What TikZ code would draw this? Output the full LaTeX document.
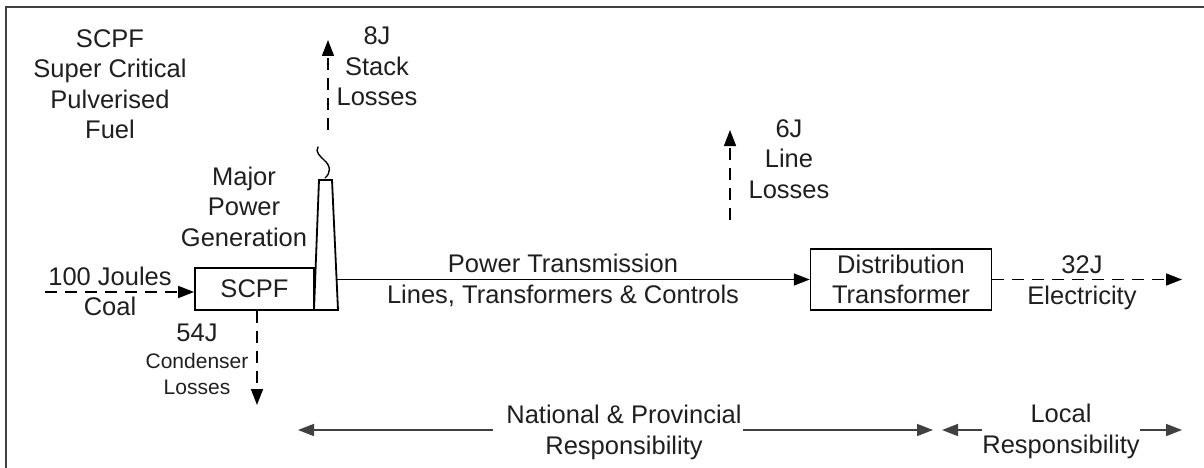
\documentclass[tikz,border=0pt]{standalone}
\usepackage{fontspec}
\setmainfont{Liberation Sans}
\usetikzlibrary{arrows.meta}
\begin{document}
\begin{tikzpicture}[x=1pt,y=-1pt,
  lbl/.style={align=center, anchor=base, inner sep=0pt, text=black!88,
              font=\fontsize{25.5}{30.5}\selectfont},
  small/.style={lbl, font=\fontsize{21}{26}\selectfont},
  flow/.style={line width=1.6pt, -{Triangle[length=16pt,width=12pt]}},
  loss/.style={flow, dash pattern=on 12pt off 8pt},
  box/.style={draw, line width=1.8pt, inner sep=0pt, text=black!88,
              font=\fontsize{25.5}{30.5}\selectfont, align=center},
  span/.style={line width=1.6pt, draw=black!75, -{Triangle[length=16pt,width=12pt]}}
]
\useasboundingbox (0,0) rectangle (1204,468);
% frame edges
\draw[line width=2pt, black!75] (6,468) -- (6,7.5) -- (1204,7.5);

% title (base anchor = last line)
\node[lbl] (title) at (110,139) {SCPF\\Super Critical\\Pulverised\\Fuel};

% generation plant
\node[lbl] (gen) at (244,246) {Major\\Power\\Generation};
\node[box, minimum width=119pt, minimum height=42pt] (scpf) at (254.5,289) {SCPF};

% chimney
\coordinate (ch1) at (314,310);
\coordinate (ch2) at (338,310);
\coordinate (ch3) at (332,180);
\coordinate (ch4) at (319,180);
\draw[line width=1.8pt, line join=miter] (ch1) -- (ch2) -- (ch3) -- (ch4) -- cycle;
% smoke
\draw[line width=1.4pt, line cap=round] (318,147) .. controls (315,152) and (320,156) .. (324,160)
  .. controls (331,166) and (331,173) .. (325,178);

% stack losses
\coordinate (stackbase) at (328,130);
\coordinate (stacktip) at (328,40);
\draw[loss] (stackbase) -- (stacktip);
\node[lbl] (stacklbl) at (377,106) {8J\\Stack\\Losses};

% coal input
\coordinate (coalsrc) at (45,292);
\draw[loss] (coalsrc) -- (scpf.west |- coalsrc);
\node[lbl] (joules) at (110,285) {100 Joules};
\node[lbl] (coal) at (110,315) {Coal};

% condenser losses
\coordinate (condtip) at (257,405);
\draw[loss] (scpf.south -| condtip) -- (condtip);
\node[lbl] (c54) at (197,341) {54J};
\node[small] (condlbl) at (197,394) {Condenser\\Losses};

% transmission
\node[box, line width=1.5pt, minimum width=181pt, minimum height=61pt] (dist) at (901,279.5)
  {Distribution\\Transformer};
\coordinate (txstart) at (336.6,279.5);
\draw[flow] (txstart) -- (dist.west);
\node[lbl] (txa) at (563,272) {Power Transmission};
\node[lbl] (txb) at (563,303) {Lines, Transformers \& Controls};

% line losses
\coordinate (linebase) at (730,220);
\coordinate (linetip) at (730,130);
\draw[loss] (linebase) -- (linetip);
\node[lbl] (linelbl) at (789,198) {6J\\Line\\Losses};

% electricity output
\coordinate (elec) at (1182,279.5);
\draw[loss] (dist.east) -- (elec);
\node[lbl] (e32) at (1082,273) {32J};
\node[lbl] (elbl) at (1082,304) {Electricity};

% responsibility spans
\coordinate (nL) at (298,430);
\coordinate (nLg) at (493,430);
\coordinate (nRg) at (743,430);
\coordinate (nR) at (933,430);
\coordinate (lL) at (942,430);
\coordinate (lLg) at (982,430);
\coordinate (lRg) at (1140,430);
\coordinate (lR) at (1182,430);
\draw[span] (nLg) -- (nL);
\draw[span] (nRg) -- (nR);
\draw[span] (lLg) -- (lL);
\draw[span] (lRg) -- (lR);
\node[lbl] (natl) at (624,454) {National \& Provincial\\Responsibility};
\node[lbl] (local) at (1061,453) {Local\\Responsibility};
\end{tikzpicture}
\end{document}
